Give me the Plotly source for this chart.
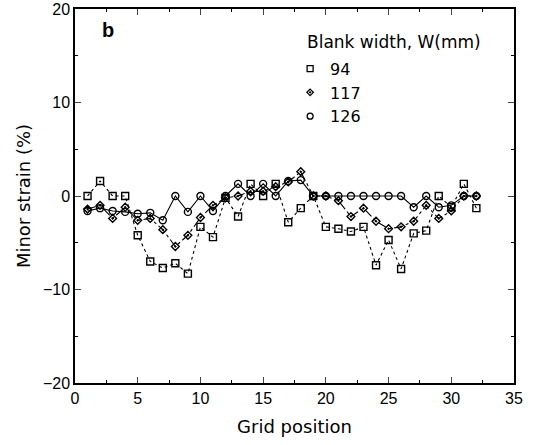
import plotly.graph_objects as go

grid = list(range(1, 33))
w94 = [0, 1.6, 0, 0, -4.2, -7.0, -7.7, -7.2, -8.3, -3.3, -4.4, -0.2, -2.2, 1.3, 0, 1.3,
       -2.8, -1.3, 0, -3.3, -3.5, -3.8, -3.3, -7.4, -4.7, -7.8, -4.0, -3.7, 0, -1.2, 1.3, -1.3]
w117 = [-1.4, -1.0, -2.4, -1.2, -2.6, -2.4, -3.6, -5.4, -4.2, -2.3, -1.0, -0.2, 0, 0.5, 0.5, 1.0,
        1.5, 2.6, 0, 0, -0.5, -2.2, -1.3, -2.7, -3.5, -3.3, -2.7, -1.0, -2.4, -1.6, 0, 0]
w126 = [-1.6, -1.3, -1.6, -1.7, -1.9, -1.8, -2.6, 0, -1.7, 0, -1.6, 0, 1.3, 0, 1.3, 0,
        1.6, 1.7, 0, 0, 0, 0, 0, 0, 0, 0, -1.2, 0, -1.2, -1.0, 0, 0]
series_names = ["94", "117", "126"]

TICKFONT = "Liberation Sans, Arial, sans-serif"
TITLEFONT = "DejaVu Sans, sans-serif"

fig = go.Figure()
specs = [
    (w94, "dot", dict(symbol="square-open", size=7)),
    (w117, "dashdot", dict(symbol="diamond-open-dot", size=6)),
    (w126, "solid", dict(symbol="circle-open", size=7)),
]
for vals, dash, mk in specs:
    fig.add_trace(go.Scatter(x=grid, y=vals, mode="lines+markers",
                             line=dict(color="black", width=1.1, dash=dash),
                             marker=dict(color="black", line=dict(width=1.4, color="black"), **mk),
                             showlegend=False))
# legend entries (markers only)
leg_markers = [dict(symbol="square-open", size=6), dict(symbol="diamond-open-dot", size=5),
               dict(symbol="circle-open", size=6)]
for name, mk in zip(series_names, leg_markers):
    fig.add_trace(go.Scatter(x=[None], y=[None], mode="markers", name=name,
                             marker=dict(color="black", line=dict(width=1.3, color="black"), **mk)))

fig.update_layout(
    width=535, height=445,
    margin=dict(l=75, r=21, t=9, b=62),
    paper_bgcolor="white", plot_bgcolor="white",
    font=dict(family=TICKFONT, size=15, color="black"),
    legend=dict(x=0.49, y=0.886, xanchor="left", yanchor="top",
                bgcolor="rgba(0,0,0,0)", font=dict(size=16, family=TITLEFONT),
                tracegroupgap=0, itemwidth=30),
    annotations=[
        dict(text="Blank width, W(mm)", x=0.523, y=0.945, xref="paper", yref="paper",
             xanchor="left", yanchor="top", showarrow=False, font=dict(size=17, family=TITLEFONT)),
        dict(text="<b>b</b>", x=0.058, y=0.978, xref="paper", yref="paper",
             xanchor="left", yanchor="top", showarrow=False, font=dict(size=20, family=TICKFONT)),
    ],
)
fig.update_xaxes(range=[0, 35], dtick=5, tick0=0, ticks="inside", ticklen=6, tickwidth=1.3,
                 showline=True, linecolor="black", linewidth=1.5, mirror="ticks", showgrid=False,
                 zeroline=False, automargin=False,
                 minor=dict(ticks="inside", dtick=2.5, ticklen=3, tickcolor="black"),
                 tickfont=dict(size=16, family=TICKFONT),
                 title=dict(text="Grid position", font=dict(size=18, family=TITLEFONT), standoff=14))
fig.update_yaxes(range=[-20, 20], dtick=10, tick0=0, ticks="inside", ticklen=6, tickwidth=1.3,
                 showline=True, linecolor="black", linewidth=1.5, mirror="ticks", showgrid=False,
                 zeroline=False, automargin=False,
                 minor=dict(ticks="inside", dtick=5, ticklen=3, tickcolor="black"),
                 tickfont=dict(size=16, family=TICKFONT),
                 title=dict(text="Minor strain (%)", font=dict(size=18, family=TITLEFONT), standoff=8))

fig.write_html("out.html")
